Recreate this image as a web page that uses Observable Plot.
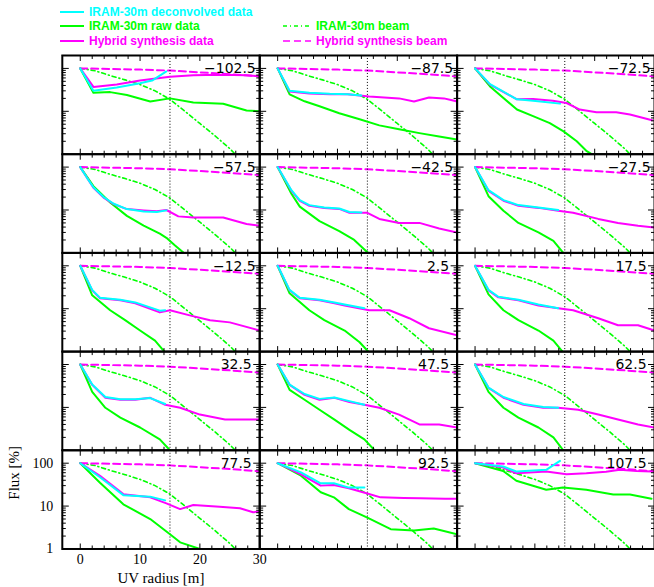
<!DOCTYPE html>
<html><head><meta charset="utf-8">
<script src="https://cdn.jsdelivr.net/npm/d3@7"></script>
<script src="https://cdn.jsdelivr.net/npm/@observablehq/plot@0.6"></script>
<style>
html,body{margin:0;padding:0;background:#fff;overflow:hidden;}
#wrap{position:relative;width:654px;height:587px;overflow:hidden;}
#legend{position:absolute;left:0;top:0;width:654px;height:54px;font-family:"Liberation Sans",sans-serif;font-weight:bold;font-size:12px;}
.item{position:absolute;height:14px;display:flex;align-items:center;white-space:nowrap;}
.item svg{margin-right:5px;}
#chart{position:absolute;left:0;top:54px;}
</style></head><body>
<div id="wrap"><div id="legend"></div><div id="chart"></div></div>
<script>
// ---- data (UV radius [m], flux [%]) ----
const panelLabels = ["\u2212102.5","\u221287.5","\u221272.5","\u221257.5","\u221242.5","\u221227.5","\u221212.5","2.5","17.5","32.5","47.5","62.5","77.5","92.5","107.5"];

const hybridData = [
  [[0,100],[2.2,37],[6.1,42],[10,52],[15,64],[18.9,69],[23.3,71],[27.8,69],[30,66]],
  [[0,100],[2,29],[5.3,26],[8.7,25],[11.7,25],[15.3,22],[17.8,21],[20.3,20],[22.8,17],[25.3,21],[27.8,20],[30,17]],
  [[0,100],[2.5,42],[7,19],[9.7,19.3],[13,17.7],[15.3,15.6],[17.5,11],[20.3,9.5],[23.6,9.5],[25.9,8.4],[29.6,6.2]],
  [[0,100],[1.1,57],[2.2,33],[3.9,19.5],[5.6,13.7],[7.8,10.5],[10.6,9.8],[12.8,9.4],[14.4,10],[16.4,7.1],[18.9,6.7],[23.9,6.7],[27.8,4.7],[30,4.3]],
  [[0,100],[2.3,28],[3.7,16.4],[5.3,12.5],[7.8,11.2],[10.3,10.6],[12,8.6],[15,8.6],[17,6.2],[20.3,5],[23.7,5],[27,3.7],[30,3]],
  [[0,100],[2.25,28],[4.75,16.4],[7.25,12.5],[10.6,11.2],[13.9,9.6],[16.4,8.6],[20.6,6.2],[23.9,5],[27.25,4.3],[30,3.9]],
  [[0,100],[2,26.8],[3.3,17.5],[6.7,15.7],[9.2,13.4],[13.3,8.2],[15,9.2],[18.3,7],[21.7,5.4],[25,4.8],[30,3.1]],
  [[0,100],[2,26.8],[3.7,17.5],[7,15.7],[9.5,13.4],[11.2,11.9],[15.3,9.2],[18.7,9.2],[22,6],[25.3,3.5],[30,2.4]],
  [[0,100],[2.25,26.8],[3.9,18.4],[7.25,15.7],[10.6,11.9],[13.9,10.2],[16.4,9.2],[20.6,6],[23.9,4.1],[27.25,4.1],[30,3.1]],
  [[0,100],[2,33.5],[4.2,16.7],[6.7,15],[9.2,15],[11.7,16.7],[14.2,11.5],[16.7,9.8],[20,6.8],[24.2,5.2],[26.7,5.2],[30,5.2]],
  [[0,100],[2,33.5],[4.5,19.6],[7,15.1],[9.5,16.7],[12,13.4],[14.5,11.5],[17,9.8],[20.3,6.8],[23.7,4],[27,4],[30,3.4]],
  [[0,100],[2.25,28.6],[4.75,16.8],[8.1,11.5],[11.4,9.8],[13.9,9.8],[17.25,8.8],[20.6,6.8],[23.9,5.2],[27.25,4],[30,3.4]],
  [[0,100],[3.3,51],[7.2,19],[11.7,16],[14.4,11.6],[16.7,8.5],[18.9,10.6],[23.3,9.7],[26.7,8.9],[28.9,7.2],[30,7.5]],
  [[0,100],[3.9,55],[7.2,30],[9.4,31],[11.9,26],[15,19.6],[17.2,16],[21.1,15.5],[23.9,15.2],[28,14.8],[30,14.8]],
  [[0,100],[4.7,79],[6.9,58],[11.9,64],[15.3,55],[18.6,58],[21.9,63],[24.2,70],[27,66],[29.5,64]]
];

const deconvData = [
  [[0,100],[2.2,30],[6.1,36],[10,45],[12,52],[14.4,85]],
  [[0,100],[2,30],[5.3,27],[8.7,25.5],[11.7,25],[14,23.5]],
  [[0,100],[2.5,43],[7,19],[9.7,17.7],[14.2,15.1]],
  [[0,100],[1.1,57],[2.2,34],[3.9,20],[5.6,14],[7.8,10.5],[10.6,9.2],[12.8,9.0],[14.4,9.8]],
  [[0,100],[2.3,29],[3.7,17],[5.3,13],[7.8,11.5],[10.3,10.8],[12,9],[14,8.8]],
  [[0,100],[2.25,29],[4.75,17],[7.25,13],[10.6,11.5],[13.9,10]],
  [[0,100],[2,27.5],[3.3,18],[6.7,16.2],[9.2,14],[13.3,9],[14.2,9.2]],
  [[0,100],[2,27.5],[3.7,18],[7,16.2],[9.5,14],[11.2,12.5],[14.5,10.2]],
  [[0,100],[2.25,27.5],[3.9,19],[7.25,16.2],[10.6,12.5],[13.9,10.2]],
  [[0,100],[2,34],[4.2,17.5],[6.7,15.5],[9.2,15.5],[11.7,16.5],[14.2,12]],
  [[0,100],[2,34],[4.5,20.5],[7,15.8],[9.5,17],[12,14],[14.5,11.5]],
  [[0,100],[2.25,29],[4.75,17.5],[8.1,12],[11.4,10.2],[13.9,9.8]],
  [[0,100],[3.3,47],[7.2,18],[11.7,16.6],[14.2,13.6]],
  [[0,100],[3.9,61],[7.2,34],[9.4,34],[11.9,27],[14.5,27]],
  [[0,100],[4.7,84],[6.9,64],[11.9,70],[14.2,113]]
];

const rawData = [
  [[0,100],[2.2,27],[5,28],[7.8,24],[11.7,17],[15,20],[18.9,16],[23.9,15],[27.8,10.4],[30,10]],
  [[0,100],[2,24.8],[4.5,17.1],[7,13.1],[10.3,9],[13.7,6.5],[17,4.7],[20.3,3.8],[23.7,3.1],[27,2.6],[30,2.2]],
  [[0,100],[2.5,38],[7,11],[9.7,7.7],[12.5,5.3],[14.8,3.4],[17,2.0],[18.6,1.2],[19.5,1.0],[21.3,1.0]],
  [[0,100],[2.2,36],[5,15],[7.8,7.3],[10.6,4.3],[13.3,2.8],[14.4,2.25],[15.8,1.5],[17.5,0.95]],
  [[0,100],[2.3,24],[3.7,12],[7,5.5],[10.3,3.2],[12.8,2],[14.5,1.2],[15.5,0.9]],
  [[0,100],[2.25,21],[4.75,9.6],[7.25,5],[10.6,3],[13.1,1.9],[14.75,1.0],[15.2,0.9]],
  [[0,100],[2,20.5],[5,9.2],[7.5,5.4],[10,3.1],[12.5,1.8],[14.2,0.95]],
  [[0,100],[2,22.8],[5.3,9.2],[7.8,5.4],[11.2,3.1],[13.7,1.65],[15.3,0.95]],
  [[0,100],[2.25,21.6],[4.75,9.2],[7.25,5.4],[10.6,3.1],[13.1,1.8],[14.75,0.95]],
  [[0,100],[2,23],[4.2,9.8],[6.7,5.8],[10,3.4],[13.3,1.8],[15,1.0]],
  [[0,100],[2,25.7],[4.5,15.1],[7,8.8],[9.5,5.2],[12,3],[14.5,1.8],[16.2,1.0]],
  [[0,100],[2.25,23],[4.75,9.8],[7.25,5.8],[10.6,3.4],[13.1,2],[14.75,1.0]],
  [[0,100],[3.3,35],[7.2,11],[11.7,5],[15,2.2],[16.7,1.43],[20,1.0]],
  [[0,100],[3.9,51],[7.2,21],[9.4,16],[11.9,8.5],[15,5.4],[18.9,2.9],[22.8,2.7],[26.1,3.0],[30,2.2]],
  [[0,100],[4.7,66],[6.9,39],[11.9,24],[14.7,27],[18.6,24],[23.1,18.6],[25.9,18.6],[29.5,14.8]]
];

const beam30m = [[0,100],[2.5,88],[5,68],[7.5,54],[10,42],[12.5,30],[15,19],[17.5,10],[20,5.2],[22.5,2.7],[25,1.35],[27,0.7]];
const beamHybrid = [[0,100],[5,97],[10,94],[15,89],[20,81],[25,73],[30,65]];
const cutRadius = [15];

const xMajor = [0, 10, 20, 30];
const xMinor = [2,4,6,8,12,14,16,18,22,24,26,28];
const yMajor = [1, 10, 100];
const yMinor = [2,3,4,5,6,7,8,9,20,30,40,50,60,70,80,90,200];

const xTitle = "UV radius [m]";
const yTitle = "Flux [%]";

const legendItems = [
  {label: "IRAM-30m deconvolved data", color: "#00ffff", dash: null},
  {label: "IRAM-30m raw data", color: "#00ff00", dash: null},
  {label: "Hybrid synthesis data", color: "#ff00ff", dash: null},
  {label: "IRAM-30m beam", color: "#00ff00", dash: "4,3,1,3"},
  {label: "Hybrid synthesis beam", color: "#ff00ff", dash: "7,4"}
];

// ---- build tables ----
const toRows = (arr) => arr.flatMap((pts, i) => pts.map(([u, f]) => ({u, f, col: i % 3, row: Math.floor(i / 3)})));
const hybridRows = toRows(hybridData);
const deconvRows = toRows(deconvData);
const rawRows = toRows(rawData);
const panelRows = panelLabels.map((label, i) => ({label, col: i % 3, row: Math.floor(i / 3), neg: label.startsWith("\u2212")}));

// ---- legend ----
const legendPos = [
  {x: 60, y: 12.3, w: 24}, {x: 60, y: 26, w: 24}, {x: 60, y: 40.7, w: 24},
  {x: 283, y: 26, w: 28}, {x: 283, y: 40.7, w: 28}
];
const legend = document.getElementById("legend");
legendItems.forEach((it, i) => {
  const p = legendPos[i];
  const d = document.createElement("div");
  d.className = "item";
  d.style.left = p.x + "px";
  d.style.top = (p.y - 7) + "px";
  d.style.color = it.color;
  d.innerHTML = `<svg width="${p.w}" height="6"><line x1="0" y1="3" x2="${p.w}" y2="3" stroke="${it.color}" stroke-width="${it.dash ? 1.6 : 2}" ${it.dash ? `stroke-dasharray="${it.dash}"` : ""}/></svg><span>${it.label}</span>`;
  legend.appendChild(d);
});

// ---- chart ----
const tickStyle = {stroke: "black", strokeWidth: 1, fill: "none", facetAnchor: null, label: null};
const only = (c, r) => ({fx: () => c, fy: () => r});

const chart = Plot.plot({
  width: 656, height: 533,
  marginLeft: 62, marginRight: 0, marginTop: 0, marginBottom: 37,
  style: {background: "transparent", overflow: "visible"},
  x: {domain: [-3, 30], axis: null},
  y: {type: "log", domain: [1, 200], axis: null},
  fx: {domain: [0, 1, 2], padding: 0, axis: null},
  fy: {domain: [0, 1, 2, 3, 4], padding: 0, axis: null},
  marks: [
    // beams (same in every panel)
    Plot.line(beam30m, {x: d => d[0], y: d => d[1], stroke: "#00ff00", strokeWidth: 1.6, strokeDasharray: "4,3,1,3", clip: true}),
    Plot.line(beamHybrid, {x: d => d[0], y: d => d[1], stroke: "#ff00ff", strokeWidth: 2, strokeDasharray: "7,4", clip: true}),
    Plot.ruleX(cutRadius, {stroke: "black", strokeWidth: 1, strokeDasharray: "1,2"}),
    // data
    Plot.line(rawRows, {x: "u", y: "f", fx: "col", fy: "row", stroke: "#00ff00", strokeWidth: 2, clip: true}),
    Plot.line(hybridRows, {x: "u", y: "f", fx: "col", fy: "row", stroke: "#ff00ff", strokeWidth: 2, clip: true}),
    Plot.line(deconvRows, {x: "u", y: "f", fx: "col", fy: "row", stroke: "#00ffff", strokeWidth: 2, clip: true}),
    // inward ticks
    Plot.axisX(xMinor, {anchor: "bottom", tickSize: 3, dy: -3, ...tickStyle}),
    Plot.axisX(xMajor, {anchor: "bottom", tickSize: 5, dy: -5, ...tickStyle}),
    Plot.axisX(xMinor, {anchor: "top", tickSize: 3, dy: 3, ...tickStyle}),
    Plot.axisX(xMajor, {anchor: "top", tickSize: 5, dy: 5, ...tickStyle}),
    Plot.axisY(yMinor, {anchor: "left", tickSize: 4, dx: 4, ...tickStyle}),
    Plot.axisY(yMajor, {anchor: "left", tickSize: 7, dx: 7, ...tickStyle}),
    Plot.axisY(yMinor, {anchor: "right", tickSize: 4, dx: -4, ...tickStyle}),
    Plot.axisY(yMajor, {anchor: "right", tickSize: 7, dx: -7, ...tickStyle}),
    Plot.frame({stroke: "black", strokeWidth: 2}),
    // panel labels
    Plot.text(panelRows.filter(d => d.neg), {fx: "col", fy: "row", text: "label", frameAnchor: "top-right", textAnchor: "end", lineAnchor: "top", dx: -4, dy: 8, fontSize: 14, fontFamily: "DejaVu Sans", fill: "black"}),
    Plot.text(panelRows.filter(d => !d.neg), {fx: "col", fy: "row", text: "label", frameAnchor: "top-right", textAnchor: "end", lineAnchor: "top", dx: -8, dy: 8, fontSize: 14, fontFamily: "DejaVu Sans", fill: "black"}),
    // tick labels (bottom-left panel only)
    Plot.text(xMajor, {x: d => d, ...only(0, 4), frameAnchor: "bottom", lineAnchor: "top", dy: 5, fontSize: 14, fontFamily: "Liberation Serif", fill: "black"}),
    Plot.text(yMajor, {y: d => d, ...only(0, 4), frameAnchor: "left", textAnchor: "end", dx: -9, fontSize: 14, fontFamily: "Liberation Serif", fill: "black"}),
    Plot.text([xTitle], {text: d => d, ...only(0, 4), frameAnchor: "bottom", lineAnchor: "middle", dy: 29, fontSize: 15, fontFamily: "Liberation Serif", fill: "black"}),
    Plot.text([yTitle], {text: d => d, ...only(0, 4), frameAnchor: "left", rotate: -90, dx: -48, fontSize: 15, fontFamily: "Liberation Serif", fill: "black"})
  ]
});
document.getElementById("chart").appendChild(chart);
</script>
</body></html>
